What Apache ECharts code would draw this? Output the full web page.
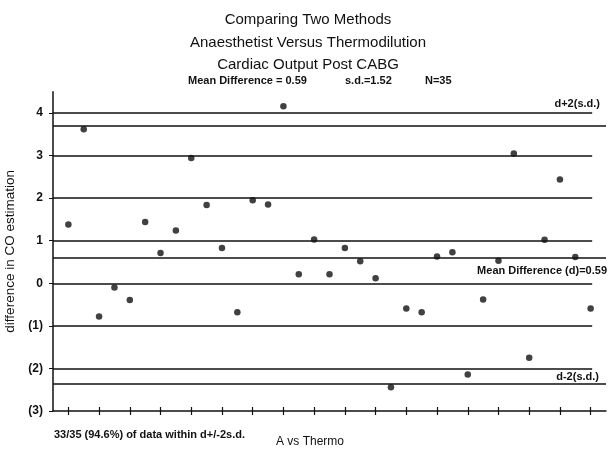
<!DOCTYPE html>
<html>
<head>
<meta charset="utf-8">
<script src="https://cdn.jsdelivr.net/npm/echarts@6/dist/echarts.min.js"></script>
<style>
  html, body { margin: 0; padding: 0; background: #fff; }
  #chart { width: 609px; height: 453px; }
</style>
</head>
<body>
<div id="chart"></div>
<script>
// difference in CO estimation, one value per patient (1..35)
var diffs = [1.38, 3.62, -0.78, -0.10, -0.39, 1.44, 0.71, 1.24, 2.94, 1.84,
             0.83, -0.68, 1.95, 1.85, 4.16, 0.21, 1.03, 0.21, 0.83, 0.52,
             0.12, -2.44, -0.59, -0.68, 0.63, 0.73, -2.14, -0.38, 0.53, 3.05,
             -1.75, 1.02, 2.44, 0.62, -0.59];
// horizontal reference lines
var gridLevels = [4, 3, 2, 1, 0, -1, -2];
var limitLevels = [3.7, 0.61, -2.37];   // d+2sd, mean d, d-2sd
var yTicks = [-3, -2, -1, 0, 1, 2, 3, 4];
var xTicks = [1, 3, 5, 7, 9, 11, 13, 15, 17, 19, 21, 23, 25, 27, 29, 31, 33, 35];

var chart = echarts.init(document.getElementById('chart'));

var points = diffs.map(function (v, i) { return [i + 1, v]; });
var lineData = [];
gridLevels.forEach(function (v) {
  lineData.push([{ coord: [0, v] }, { coord: [35.1, v] }]);
});
limitLevels.forEach(function (v) {
  lineData.push([{ coord: [0, v] }, { coord: [36, v] }]);
});

var ink = '#111';
var fontFam = 'Liberation Sans, Arial, sans-serif';

function txt(x, y, text, size, weight, align) {
  return {
    type: 'text', x: x, y: y, silent: true,
    style: {
      text: text, fill: ink,
      font: (weight || 'normal') + ' ' + size + 'px ' + fontFam,
      align: align || 'center', verticalAlign: 'middle'
    }
  };
}

var option = {
  backgroundColor: '#fff',
  animation: false,
  grid: { left: 53, right: 3, top: 91.7, bottom: 42, outerBoundsMode: 'none' },
  xAxis: [{
    type: 'value', min: 0, max: 36, position: 'bottom',
    axisLine: { onZero: false, lineStyle: { color: ink, width: 1.5 } },
    axisTick: { show: true, customValues: xTicks, length: 4, lineStyle: { color: ink, width: 1.2 } },
    axisLabel: { show: false },
    splitLine: { show: false }
  }, {
    type: 'value', min: 0, max: 36, position: 'bottom',
    axisLine: { show: false, onZero: false },
    axisTick: { show: true, inside: true, customValues: xTicks, length: 4, lineStyle: { color: ink, width: 1.2 } },
    axisLabel: { show: false },
    splitLine: { show: false }
  }],
  yAxis: {
    type: 'value', min: -3, max: 4.5, interval: 1,
    axisLine: { show: true, onZero: false, lineStyle: { color: ink, width: 1.5 } },
    axisTick: { show: true, customValues: yTicks, length: 4, lineStyle: { color: ink } },
    axisLabel: {
      customValues: yTicks, margin: 10,
      color: ink, fontSize: 12, fontWeight: 'bold', fontFamily: fontFam,
      formatter: function (v) { return v < 0 ? '(' + (-v) + ')' : String(v); }
    },
    splitLine: { show: false },
    name: 'difference in CO estimation', nameLocation: 'middle', nameGap: 36,
    nameTextStyle: { color: ink, fontSize: 13.5, fontFamily: fontFam }
  },
  graphic: [
    txt(308, 20, 'Comparing Two Methods', 15),
    txt(308, 43, 'Anaesthetist Versus Thermodilution', 15),
    txt(308, 65, 'Cardiac Output Post CABG', 15),
    txt(188, 81, 'Mean Difference = 0.59', 11, 'bold', 'left'),
    txt(345, 81, 's.d.=1.52', 11, 'bold', 'left'),
    txt(425, 81, 'N=35', 11, 'bold', 'left'),
    txt(600, 104, 'd+2(s.d.)', 11, 'bold', 'right'),
    txt(607, 271, 'Mean Difference (d)=0.59', 11, 'bold', 'right'),
    txt(599, 377, 'd-2(s.d.)', 11, 'bold', 'right'),
    txt(54, 435, '33/35 (94.6%) of data within d+/-2s.d.', 11, 'bold', 'left'),
    txt(310, 442, 'A vs Thermo', 12)
  ],
  series: [{
    type: 'scatter',
    data: points,
    symbolSize: 6.5,
    itemStyle: { color: ink },
    markLine: {
      silent: true,
      symbol: 'none',
      label: { show: false },
      lineStyle: { color: ink, width: 1.5, type: 'solid' },
      data: lineData
    }
  }]
};
chart.setOption(option);
</script>
</body>
</html>
